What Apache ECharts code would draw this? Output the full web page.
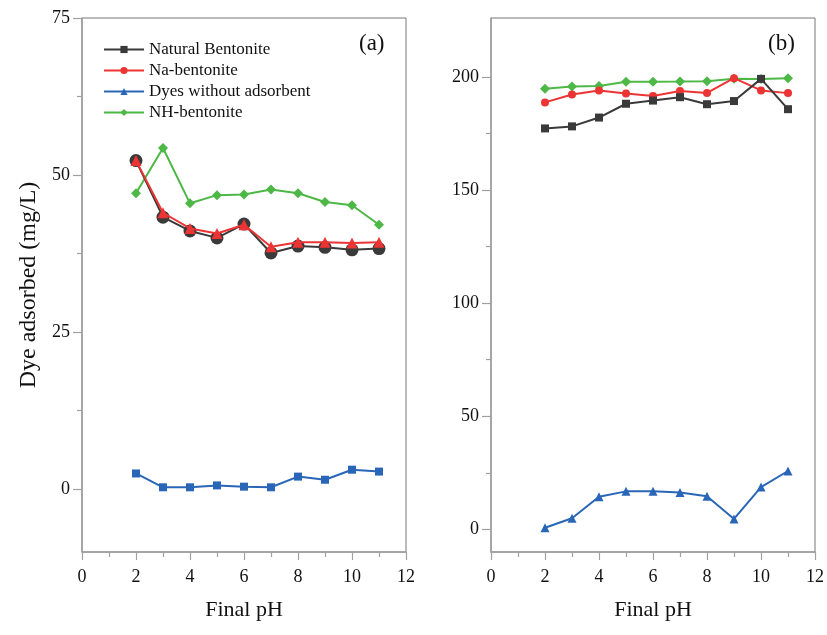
<!DOCTYPE html>
<html>
<head>
<meta charset="utf-8">
<script src="https://cdn.jsdelivr.net/npm/echarts@6/dist/echarts.min.js"></script>
<style>
html,body{margin:0;padding:0;background:#fff;}
#c{width:827px;height:635px;}
</style>
</head>
<body>
<div id="c"></div>
<script>
// ---- data ----
const pH = [2, 3, 4, 5, 6, 7, 8, 9, 10, 11];
const seriesNames = ['Natural Bentonite', 'Na-bentonite', 'Dyes without adsorbent', 'NH-bentonite'];
// panel (a)
const aNatural = [52.3, 43.3, 41.1, 40.0, 42.2, 37.6, 38.7, 38.5, 38.1, 38.3];
const aNa      = [52.3, 44.0, 41.5, 40.7, 42.1, 38.6, 39.3, 39.3, 39.2, 39.3];
const aDyes    = [2.5, 0.3, 0.3, 0.6, 0.4, 0.3, 2.0, 1.5, 3.1, 2.8];
const aNH      = [47.1, 54.3, 45.5, 46.8, 46.9, 47.7, 47.1, 45.7, 45.2, 42.1];
// panel (b)
const bNatural = [177.2, 178.1, 182.0, 188.1, 189.5, 191.0, 187.9, 189.3, 199.1, 185.7];
const bNa      = [188.7, 192.2, 194.0, 192.6, 191.5, 193.7, 192.9, 199.4, 194.0, 192.8];
const bDyes    = [0.7, 4.9, 14.4, 16.8, 16.9, 16.3, 14.6, 4.6, 18.7, 25.8];
const bNH      = [194.7, 195.7, 195.9, 197.8, 197.8, 197.9, 198.1, 199.1, 199.0, 199.4];
// ticks
const aMajorTicks = [0, 25, 50, 75];
const aMinorTicks = [12.5, 37.5, 62.5];
const bMajorTicks = [0, 50, 100, 150, 200];
const bMinorTicks = [25, 75, 125, 175];
const panelLabels = ['(a)', '(b)'];

const FONT = 'Liberation Serif';
const colors = { black: '#3a3a3a', red: '#ec3434', blue: '#2a66b8', green: '#4db846' };
const pair = arr => pH.map((x, i) => [x, arr[i]]);

function xAxis(gridIndex) {
  return {
    type: 'value', gridIndex, min: 0, max: 12, interval: 2,
    name: 'Final pH', nameLocation: 'middle', nameGap: 47,
    nameTextStyle: { fontFamily: FONT, fontSize: 22, color: '#111' },
    axisLine: { show: true, onZero: false, lineStyle: { color: '#a0a0a0', width: 1.5 } },
    axisTick: { show: true, inside: false, length: 8, lineStyle: { color: '#a0a0a0', width: 1.2 } },
    minorTick: { show: true, splitNumber: 2, length: 5, lineStyle: { color: '#a0a0a0', width: 1.2 } },
    axisLabel: { fontFamily: FONT, fontSize: 18, color: '#111', margin: 16 },
    splitLine: { show: false }, minorSplitLine: { show: false }
  };
}
function yMain(gridIndex, min, max, ticks, name) {
  return {
    type: 'value', gridIndex, min, max, position: 'left',
    name: name || '', nameLocation: 'middle', nameGap: 41,
    nameTextStyle: { fontFamily: FONT, fontSize: 24, color: '#111' },
    axisLine: { show: true, onZero: false, lineStyle: { color: '#a0a0a0', width: 1.5 } },
    axisTick: { show: true, inside: false, length: 9, customValues: ticks, lineStyle: { color: '#a0a0a0', width: 1.2 } },
    axisLabel: { fontFamily: FONT, fontSize: 18, color: '#111', margin: 12, customValues: ticks },
    splitLine: { show: false }
  };
}
function yMinor(gridIndex, min, max, ticks) {
  return {
    type: 'value', gridIndex, min, max, position: 'left', offset: 0,
    axisLine: { show: false, onZero: false },
    axisTick: { show: true, inside: false, length: 5, customValues: ticks, lineStyle: { color: '#a0a0a0', width: 1.2 } },
    axisLabel: { show: false },
    splitLine: { show: false }
  };
}
function line(name, data, color, symbol, size, xi, yi, z) {
  return {
    type: 'line', name, data: pair(data), xAxisIndex: xi, yAxisIndex: yi,
    symbol, symbolSize: size, showSymbol: true, z: z || 2,
    lineStyle: { color, width: 2 }, itemStyle: { color },
    emphasis: { disabled: true }, animation: false
  };
}

const option = {
  animation: false,
  grid: [
    { left: 82, top: 18, width: 324, bottom: 83, show: true, borderColor: '#777', borderWidth: 1 },
    { left: 491, top: 18, width: 325, bottom: 83, show: true, borderColor: '#777', borderWidth: 1 }
  ],
  xAxis: [xAxis(0), xAxis(1)],
  yAxis: [
    yMain(0, -10, 75, aMajorTicks, 'Dye adsorbed (mg/L)'),
    yMinor(0, -10, 75, aMinorTicks),
    yMain(1, -10, 226, bMajorTicks),
    yMinor(1, -10, 226, bMinorTicks)
  ],
  legend: {
    data: seriesNames, orient: 'vertical', left: 98, top: 36,
    itemWidth: 40, itemHeight: 9, itemGap: 4,
    textStyle: { fontFamily: FONT, fontSize: 17, color: '#111' },
    selectedMode: false
  },
  graphic: [
    { type: 'text', left: 359, top: 32, style: { text: panelLabels[0], font: '23px "Liberation Serif"', fill: '#111' } },
    { type: 'text', left: 768, top: 32, style: { text: panelLabels[1], font: '23px "Liberation Serif"', fill: '#111' } }
  ],
  series: [
    // panel (b) first so legend picks these symbols
    line(seriesNames[3], bNH, colors.green, 'diamond', 10, 1, 2, 2),
    line(seriesNames[1], bNa, colors.red, 'circle', 8, 1, 2, 3),
    line(seriesNames[2], bDyes, colors.blue, 'triangle', 9, 1, 2, 3),
    line(seriesNames[0], bNatural, colors.black, 'rect', 8, 1, 2, 4),
    // panel (a)
    line(seriesNames[3], aNH, colors.green, 'diamond', 10, 0, 0, 2),
    line(seriesNames[0], aNatural, colors.black, 'circle', 13, 0, 0, 3),
    line(seriesNames[1], aNa, colors.red, 'triangle', 11, 0, 0, 4),
    line(seriesNames[2], aDyes, colors.blue, 'rect', 8, 0, 0, 3)
  ]
};
const chart = echarts.init(document.getElementById('c'));
chart.setOption(option);
</script>
</body>
</html>
